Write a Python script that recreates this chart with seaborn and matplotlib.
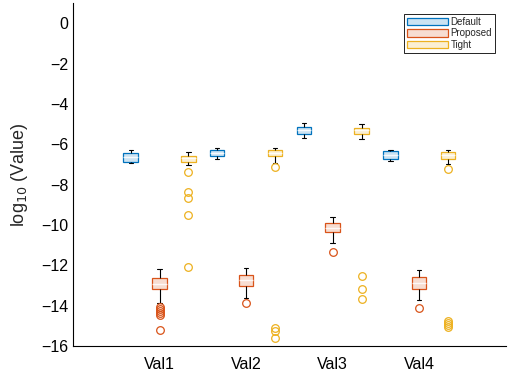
import matplotlib
matplotlib.use("Agg")
import matplotlib.pyplot as plt
from matplotlib.patches import Patch
import seaborn as sns
import pandas as pd

categories = ["Val1", "Val2", "Val3", "Val4"]
series = ["Default", "Proposed", "Tight"]

# five-number summaries per category: (whisker_low, q1, median, q3, whisker_high)
default_stats = [(-6.91, -6.86, -6.64, -6.42, -6.31),
                 (-6.73, -6.57, -6.42, -6.27, -6.18),
                 (-5.69, -5.47, -5.31, -5.14, -4.94),
                 (-6.85, -6.72, -6.54, -6.35, -6.27)]
proposed_stats = [(-13.87, -13.19, -12.91, -12.63, -12.19),
                  (-13.60, -13.01, -12.73, -12.49, -12.13),
                  (-10.88, -10.33, -10.14, -9.91, -9.62),
                  (-13.73, -13.17, -12.86, -12.60, -12.21)]
tight_stats = [(-7.02, -6.87, -6.70, -6.57, -6.40),
               (-6.92, -6.60, -6.44, -6.27, -6.18),
               (-5.74, -5.47, -5.31, -5.20, -5.00),
               (-7.00, -6.72, -6.55, -6.40, -6.27)]

default_outliers = [[], [], [], []]
proposed_outliers = [[-14.05, -14.15, -14.25, -14.35, -14.45, -15.19],
                     [-13.86],
                     [-11.34],
                     [-14.12]]
tight_outliers = [[-7.38, -8.36, -8.66, -9.50, -12.10],
                  [-7.15, -15.12, -15.28, -15.62],
                  [-12.52, -13.20, -13.65],
                  [-7.25, -14.75, -14.85, -14.95, -15.05]]

edge_colors = ["#0072BD", "#D95319", "#EDB120"]
fill_colors = ["#CCE3F2", "#F7DDD1", "#FBEFD2"]

# build a long table whose quartiles / whiskers reproduce the summaries
rows = []
for s, stats, outs in zip(series,
                          [default_stats, proposed_stats, tight_stats],
                          [default_outliers, proposed_outliers, tight_outliers]):
    for c, st, out in zip(categories, stats, outs):
        wlo, q1, med, q3, whi = st
        vals = [wlo] + [q1] * 10 + [med] * 10 + [q3] * 10 + [whi] + list(out)
        for v in vals:
            rows.append({"category": c, "series": s, "value": v})
df = pd.DataFrame(rows)

sns.set_style("white")
plt.rcParams["font.family"] = ["Liberation Sans", "DejaVu Sans"]

fig = plt.figure(figsize=(5.14, 3.81), dpi=100)
ax = fig.add_axes([0.142, 0.092, 0.842, 0.9])

sns.boxplot(data=df, x="category", y="value", hue="series",
            order=categories, hue_order=series, palette=fill_colors,
            width=1.0, gap=0.5, linecolor="black", linewidth=0.8,
            whis=1.5, flierprops=dict(marker="o", markersize=5.5),
            legend=False, ax=ax)

for i, cont in enumerate(ax.containers):
    ec = edge_colors[i % 3]
    fc = fill_colors[i % 3]
    for b in cont.boxes:
        b.set_edgecolor(ec)
        b.set_facecolor(fc)
        b.set_linewidth(0.9)
    for m in cont.medians:
        m.set_color("white")
        m.set_alpha(0.85)
        m.set_linewidth(1.0)
    for w in cont.whiskers:
        w.set_color("black")
        w.set_linewidth(0.8)
    for cp in cont.caps:
        cp.set_color("black")
        cp.set_linewidth(0.8)
        xd = list(cp.get_xdata())
        c0 = 0.5 * (xd[0] + xd[1])
        half = 0.5 * abs(xd[1] - xd[0])
        cp.set_xdata([c0 - half * 0.6, c0 + half * 0.6])
    for f in cont.fliers:
        f.set_markeredgecolor(ec)
        f.set_markerfacecolor("none")
        f.set_markeredgewidth(0.9)

ax.set_xlim(-1, 4)
ax.set_ylim(-16, 1)
ax.set_yticks(range(-16, 1, 2))
ax.set_xlabel("")
ax.set_ylabel("log$_{10}$ (Value)", fontsize=13, labelpad=8)
ax.tick_params(axis="both", direction="in", length=3, width=0.6,
               labelsize=11.5, colors="black")
ax.tick_params(axis="x", pad=8)
for side in ["top", "right"]:
    ax.spines[side].set_visible(False)
for side in ["left", "bottom"]:
    ax.spines[side].set_color("black")
    ax.spines[side].set_linewidth(0.8)

handles = [Patch(facecolor=fc, edgecolor=ec, linewidth=0.9)
           for fc, ec in zip(fill_colors, edge_colors)]
leg = ax.legend(handles, series, loc="upper right", bbox_to_anchor=(0.975, 0.968),
                borderaxespad=0, fontsize=7, handlelength=4.2, handleheight=0.8,
                handletextpad=0.3, labelspacing=0.15, borderpad=0.3,
                fancybox=False, framealpha=1)
leg.get_frame().set_edgecolor("black")
leg.get_frame().set_linewidth(0.6)

fig.savefig("out.png", dpi=100)
